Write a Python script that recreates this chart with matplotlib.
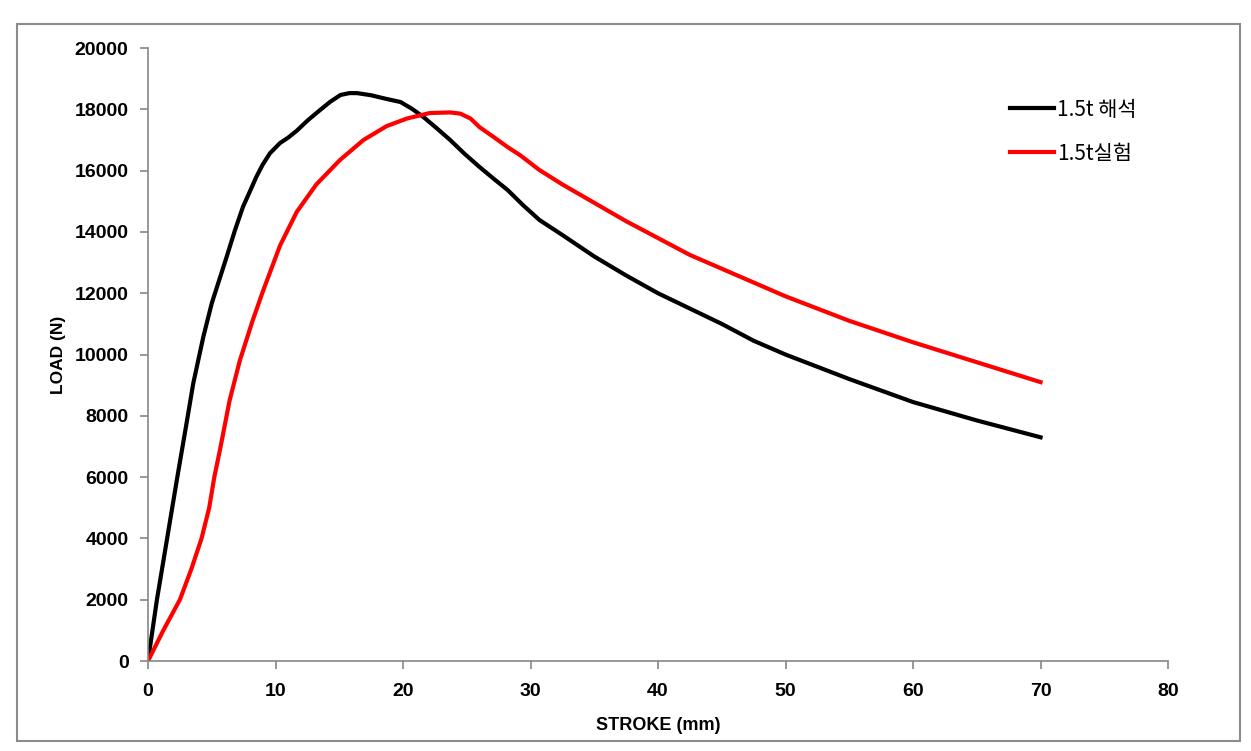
import matplotlib.pyplot as plt
from matplotlib.patches import Rectangle

# Values
stroke_sim = [0, 0.7, 1.5, 2.3, 3.0, 3.55, 4.34, 5.0, 5.6, 6.17, 6.8, 7.45, 8.0, 8.5,
              9.0, 9.57, 10.35, 11.0, 11.66, 12.55, 13.5, 14.3, 15.1, 15.8, 16.4, 17.5,
              18.6, 19.8, 20.7, 21.6, 22.6, 23.7, 24.8, 26.0, 27.1, 28.2, 29.4, 30.7,
              32.5, 35.0, 37.5, 40.0, 42.5, 45.0, 47.5, 50.0, 55.0, 60.0, 65.0, 70.0]
load_sim = [0, 2000, 4000, 6000, 7700, 9060, 10580, 11670, 12450, 13190, 14030, 14820,
            15330, 15800, 16200, 16570, 16900, 17080, 17300, 17650, 17980, 18250, 18470,
            18530, 18530, 18460, 18350, 18240, 18020, 17750, 17400, 17000, 16560, 16120,
            15740, 15370, 14880, 14390, 13900, 13200, 12580, 12000, 11500, 11000, 10450,
            10000, 9200, 8450, 7850, 7300]

stroke_exp = [0, 1.2, 2.5, 3.4, 4.2, 4.8, 5.2, 5.65, 6.4, 7.2, 8.2, 9.0, 10.35, 11.66,
              13.2, 15.06, 16.9, 18.7, 20.3, 22.1, 23.7, 24.5, 25.3, 26.0, 27.1, 28.2,
              29.2, 30.7, 32.5, 35.0, 37.5, 40.0, 42.5, 45.0, 47.5, 50.0, 55.0, 60.0,
              65.0, 70.0]
load_exp = [0, 1000, 2000, 3000, 4000, 5000, 6000, 6900, 8500, 9800, 11100, 12050, 13550,
            14650, 15550, 16350, 17000, 17450, 17700, 17880, 17900, 17860, 17700, 17420,
            17100, 16770, 16500, 16020, 15550, 14950, 14350, 13800, 13250, 12800, 12350,
            11900, 11100, 10400, 9750, 9100]

plt.rcParams['font.family'] = ['Liberation Sans', 'Noto Sans CJK KR', 'DejaVu Sans']

fig = plt.figure(figsize=(12.51, 7.51), dpi=100)
ax = fig.add_axes([0.1183, 0.1198, 0.8154, 0.8162])

# outer frame of the chart area
fig.patches.append(Rectangle((17 / 1251, 1 - 741 / 751), (1240 - 17) / 1251, (741 - 24) / 751,
                             transform=fig.transFigure, fill=False, edgecolor='#8c8c8c', linewidth=1.5))

ax.plot(stroke_sim, load_sim, color='black', linewidth=3, label='1.5t 해석')
ax.plot(stroke_exp, load_exp, color='#ff0000', linewidth=3, label='1.5t실험')

ax.set_xlim(0, 80)
ax.set_ylim(0, 20000)
ax.set_xticks(range(0, 81, 10))
ax.set_yticks(range(0, 20001, 2000))

for s in ['top', 'right']:
    ax.spines[s].set_visible(False)
for s in ['left', 'bottom']:
    ax.spines[s].set_color('#868686')
    ax.spines[s].set_linewidth(1.2)
ax.tick_params(colors='#868686', labelcolor='black', length=6, width=1.2, labelsize=14)
for lbl in ax.get_xticklabels() + ax.get_yticklabels():
    lbl.set_fontweight('bold')
ax.tick_params(axis='x', pad=10)
ax.tick_params(axis='y', pad=8)

ax.set_xlabel('STROKE (mm)', fontsize=13, fontweight='bold', labelpad=12)
ax.set_ylabel('LOAD (N)', fontsize=12.5, fontweight='bold', labelpad=6)

leg = ax.legend(loc='upper left', bbox_to_anchor=(0.827, 0.948), frameon=False,
                handlelength=2.1, handletextpad=0.15, labelspacing=1.05,
                prop={'family': ['Noto Sans CJK KR'], 'size': 15})

fig.savefig('out.png', dpi=100)
